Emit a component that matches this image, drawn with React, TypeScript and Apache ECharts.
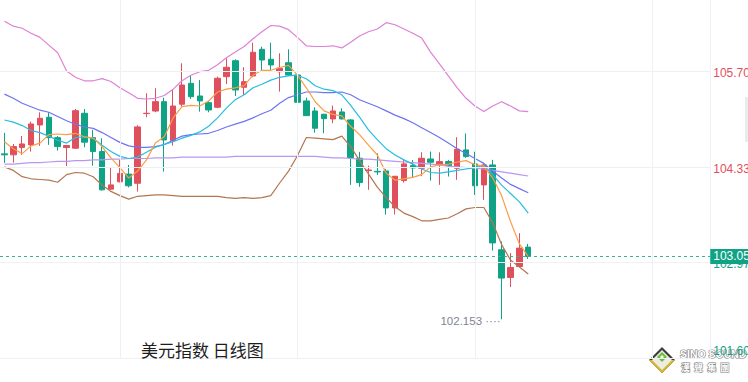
import React, { useEffect, useRef } from "react";
import * as echarts from "echarts";

// ---------- data ----------
const categories = Array.from({ length: 80 }, (_, i) => `D${i + 1}`);
const gridCategories = ["D14", "D34", "D54", "D74"];

// [open, close, low, high]
const ohlc: number[][] = [
  [104.516, 104.502, 104.388, 104.815],
  [104.502, 104.62, 104.39, 104.658],
  [104.606, 104.658, 104.502, 104.772],
  [104.644, 104.943, 104.549, 104.976],
  [104.929, 105.025, 104.63, 105.11],
  [105.039, 104.748, 104.644, 105.11],
  [104.748, 104.62, 104.563, 104.772],
  [104.606, 104.635, 104.343, 104.644],
  [104.597, 105.133, 104.587, 105.157],
  [105.096, 104.683, 104.611, 105.157],
  [104.748, 104.549, 104.348, 104.858],
  [104.549, 104.002, 103.992, 104.739],
  [104.012, 104.073, 104.002, 104.325],
  [104.117, 104.237, 104.108, 104.429],
  [104.227, 104.06, 104.036, 104.358],
  [104.096, 104.901, 103.977, 104.925],
  [105.092, 105.096, 105.039, 105.382],
  [105.128, 105.262, 105.11, 105.453],
  [105.262, 104.715, 104.262, 105.319],
  [104.706, 105.2, 104.635, 105.439],
  [105.225, 105.5, 105.19, 105.81],
  [105.524, 105.333, 105.3, 105.643],
  [105.343, 105.272, 105.119, 105.572],
  [105.247, 105.143, 105.11, 105.272],
  [105.182, 105.596, 105.168, 105.619],
  [105.619, 105.753, 105.514, 105.881],
  [105.847, 105.429, 105.343, 105.867],
  [105.467, 105.547, 105.357, 105.753],
  [105.629, 105.967, 105.61, 106.104],
  [106.01, 105.857, 105.7, 106.047],
  [105.867, 105.786, 105.714, 106.104],
  [105.69, 105.739, 105.405, 105.953],
  [105.818, 105.643, 105.629, 106.01],
  [105.643, 105.253, 105.015, 105.786],
  [105.272, 105.062, 105.058, 105.319],
  [105.129, 104.882, 104.819, 105.182],
  [105.082, 105.019, 104.811, 105.086],
  [105.015, 105.129, 104.954, 105.205],
  [105.115, 105.015, 105.01, 105.168],
  [105.001, 104.463, 104.073, 105.01],
  [104.454, 104.106, 104.045, 104.544],
  [104.279, 104.286, 104.002, 104.348],
  [104.266, 104.258, 104.215, 104.524],
  [104.272, 103.744, 103.649, 104.301],
  [103.744, 104.196, 103.649, 104.201],
  [104.135, 104.373, 104.106, 104.429],
  [104.348, 104.315, 104.183, 104.429],
  [104.31, 104.453, 104.197, 104.539],
  [104.443, 104.396, 104.133, 104.549],
  [104.358, 104.406, 104.073, 104.539],
  [104.406, 104.348, 104.192, 104.43],
  [104.311, 104.582, 104.145, 104.754],
  [104.573, 104.477, 104.459, 104.808],
  [104.372, 104.06, 103.929, 104.547],
  [104.072, 104.358, 103.859, 104.386],
  [104.358, 103.244, 103.135, 104.43],
  [103.146, 102.742, 102.153, 103.264],
  [102.75, 102.893, 102.613, 103.098],
  [102.907, 103.17, 102.9, 103.383],
  [103.184, 103.05, 103.016, 103.23],
];

const ma5 = [
  104.69, 104.59, 104.52, 104.63, 104.67, 104.79, 104.8, 104.79, 104.81, 104.76,
  104.74, 104.62, 104.46, 104.32, 104.17, 104.27, 104.43, 104.67, 104.76, 105.03,
  105.19, 105.21, 105.2, 105.27, 105.4, 105.44, 105.46, 105.49, 105.64, 105.71,
  105.71, 105.75, 105.78, 105.64, 105.46, 105.26, 105.13, 105.08, 105.06, 104.91,
  104.79, 104.64, 104.5, 104.24, 104.14, 104.16, 104.18, 104.22, 104.33, 104.36,
  104.37, 104.4, 104.42, 104.36, 104.34, 104.17, 103.92, 103.55, 103.23, 103.05,
];
const ma10 = [
  105.0, 104.97, 104.92, 104.85, 104.82, 104.77, 104.71, 104.67, 104.75, 104.76,
  104.74, 104.64, 104.55, 104.48, 104.45, 104.47, 104.54, 104.61, 104.65, 104.69,
  104.74, 104.78, 104.83, 104.91, 105.03, 105.17, 105.29, 105.36, 105.46, 105.51,
  105.57, 105.61, 105.63, 105.64, 105.59, 105.49, 105.44, 105.42, 105.36, 105.21,
  105.04, 104.86, 104.72, 104.59, 104.5, 104.43, 104.37, 104.3, 104.25, 104.24,
  104.26, 104.28, 104.3, 104.32, 104.35, 104.22, 104.07, 103.95, 103.83, 103.67,
];
const ma20 = [
  105.37, 105.31, 105.24, 105.19, 105.14, 105.11, 105.05, 104.99, 104.94, 104.9,
  104.88, 104.82, 104.75, 104.68, 104.63, 104.61, 104.61, 104.62, 104.65, 104.71,
  104.77, 104.79, 104.8, 104.81, 104.85, 104.9, 104.94, 104.98, 105.03, 105.09,
  105.14, 105.24, 105.32, 105.36, 105.4, 105.4, 105.39, 105.39, 105.4, 105.36,
  105.29, 105.24, 105.19, 105.13, 105.07, 105.02, 104.96, 104.89, 104.82, 104.75,
  104.67, 104.59, 104.52, 104.45, 104.38, 104.27, 104.17, 104.08, 104.02, 103.96,
];
const upperBand = [
  106.41, 106.34, 106.31, 106.24, 106.18, 106.07, 105.96, 105.7, 105.61, 105.56,
  105.56, 105.59, 105.55, 105.46, 105.39, 105.31, 105.3, 105.31, 105.35, 105.44,
  105.56, 105.64, 105.69, 105.71, 105.79, 105.89, 105.97, 106.05, 106.16, 106.26,
  106.35, 106.34, 106.29, 106.18, 106.06, 106.05, 106.05, 106.06, 106.03, 106.11,
  106.2, 106.26, 106.3, 106.39, 106.36, 106.3, 106.24, 106.17, 105.97, 105.8,
  105.63, 105.46, 105.31, 105.2, 105.12, 105.2, 105.26, 105.2, 105.13, 105.12,
];
const lowerBand = [
  104.33, 104.28, 104.19, 104.16, 104.15, 104.14, 104.11, 104.22, 104.25, 104.24,
  104.19, 104.07, 103.98, 103.92, 103.87, 103.91, 103.92, 103.93, 103.93, 103.92,
  103.91, 103.91, 103.91, 103.91, 103.91, 103.89, 103.88, 103.89, 103.88, 103.89,
  103.92, 104.1, 104.27, 104.49, 104.75, 104.74, 104.73, 104.72, 104.77, 104.62,
  104.42, 104.23, 104.04, 103.89, 103.76, 103.67, 103.62, 103.56, 103.56, 103.58,
  103.6, 103.66, 103.73, 103.75, 103.75, 103.53, 103.22, 103.0, 102.9, 102.8,
];
const ma60 = [
  104.37, 104.37, 104.38, 104.39, 104.39, 104.4, 104.41, 104.41, 104.42, 104.42,
  104.43, 104.43, 104.44, 104.44, 104.45, 104.45, 104.45, 104.46, 104.46, 104.46,
  104.47, 104.47, 104.47, 104.47, 104.47, 104.47, 104.48, 104.48, 104.48, 104.48,
  104.48, 104.48, 104.48, 104.48, 104.48, 104.48, 104.47, 104.46, 104.46, 104.45,
  104.44, 104.44, 104.43, 104.42, 104.41, 104.4, 104.39, 104.38, 104.37, 104.36,
  104.34, 104.33, 104.32, 104.31, 104.3, 104.28, 104.26, 104.24, 104.22, 104.2,
];

const priceLevels = [105.7, 104.333, 102.967, 101.6];
const levelLabels = ["105.70", "104.33", "102.97", "101.60"];
const lastPrice = 103.05;
const lastPriceLabel = "103.05";
const lowPrice = 102.153;
const lowLabel = "102.153 ····";
const lowCategory = "D57";
const titleText = "美元指数 日线图";

// ---------- styles ----------
const UP = "#e0505c";
const DOWN = "#0fa386";
const GRID = "#eff0f4";
const NUM_FONT = "'Liberation Sans', Arial, sans-serif";

export default function App() {
  const ref = useRef<HTMLDivElement>(null);

  useEffect(() => {
    if (!ref.current) return;
    const chart = echarts.init(ref.current, undefined, { renderer: "svg" });

    const lineSeries = (name: string, data: number[], color: string) => ({
      name,
      type: "line",
      data,
      showSymbol: false,
      symbol: "none",
      smooth: false,
      z: 3,
      lineStyle: { color, width: 1.2 },
    });

    const gridMarks: any[] = priceLevels.map((v, i) => ({
      yAxis: v,
      lineStyle: { color: GRID, width: 1, type: "solid" },
      label: {
        show: true,
        position: "end",
        distance: 3,
        formatter: levelLabels[i],
        color: v > lastPrice ? UP : DOWN,
        fontSize: 12,
        fontFamily: NUM_FONT,
        offset: i === priceLevels.length - 1 ? [0, -7] : [0, 2],
      },
    }));
    gridCategories.forEach((c) =>
      gridMarks.push({
        xAxis: c,
        lineStyle: { color: GRID, width: 1, type: "solid" },
        label: { show: false },
      })
    );

    const option: any = {
      animation: false,
      backgroundColor: "#ffffff",
      title: {
        text: titleText,
        left: 141,
        top: 341,
        padding: 0,
        textStyle: {
          fontSize: 17,
          fontWeight: "normal",
          color: "#1d1d1d",
          fontFamily: "'Noto Sans CJK SC', sans-serif",
        },
      },
      grid: { left: -1.75, top: 0, width: 712, height: 358 },
      xAxis: {
        type: "category",
        data: categories,
        boundaryGap: true,
        axisLine: { show: true, lineStyle: { color: GRID } },
        axisTick: { show: false },
        axisLabel: { show: false },
        splitLine: { show: false },
      },
      yAxis: {
        type: "value",
        position: "right",
        min: 101.6,
        max: 106.714,
        scale: true,
        splitLine: { show: false },
        axisLabel: { show: false },
        axisTick: { show: false },
        axisLine: { show: true, lineStyle: { color: GRID } },
      },
      series: [
        {
          name: "grid",
          type: "line",
          data: [],
          z: 1,
          markLine: {
            silent: true,
            symbol: ["none", "none"],
            animation: false,
            data: gridMarks,
          },
        },
        {
          name: "K",
          type: "candlestick",
          data: ohlc,
          barWidth: 6,
          z: 2,
          itemStyle: {
            color: UP,
            color0: DOWN,
            borderColor: UP,
            borderColor0: DOWN,
            borderWidth: 1,
          },
          markPoint: {
            symbol: "circle",
            symbolSize: 0.1,
            animation: false,
            itemStyle: { color: "transparent" },
            label: {
              show: true,
              position: "left",
              distance: 1,
              offset: [0, 2],
              formatter: lowLabel,
              color: "#7f8494",
              fontSize: 11.5,
              fontFamily: NUM_FONT,
            },
            data: [{ coord: [lowCategory, lowPrice], value: lowPrice }],
          },
        },
        lineSeries("MA60", ma60, "#b996f0"),
        lineSeries("UPPER", upperBand, "#de82d6"),
        lineSeries("LOWER", lowerBand, "#b27750"),
        lineSeries("MA20", ma20, "#6e74f0"),
        lineSeries("MA10", ma10, "#27bde0"),
        lineSeries("MA5", ma5, "#fb9d45"),
        {
          name: "last",
          type: "line",
          data: [],
          z: 10,
          markLine: {
            silent: true,
            symbol: ["none", "none"],
            animation: false,
            data: [
              {
                yAxis: lastPrice,
                lineStyle: { color: "#35b596", width: 1, type: [3, 3] },
                label: {
                  show: true,
                  position: "end",
                  distance: 0,
                  formatter: lastPriceLabel,
                  color: "#ffffff",
                  backgroundColor: DOWN,
                  padding: [2, 4, 1, 3],
                  fontSize: 12,
                  fontFamily: NUM_FONT,
                },
              },
            ],
          },
        },
      ],
      graphic: [
        {
          type: "rect",
          shape: { x: 745, y: 97, width: 3, height: 45 },
          style: { fill: "#ebebef" },
          silent: true,
        },
        {
          type: "group",
          silent: true,
          children: [
            {
              type: "polygon",
              shape: { points: [[662, 347], [675, 360], [662, 373], [649, 360]] },
              style: { fill: "#3d3d38" },
            },
            {
              type: "polygon",
              shape: { points: [[649, 360], [675, 360], [662, 373]] },
              style: { fill: "#d6b82a" },
            },
            {
              type: "polygon",
              shape: { points: [[662, 350], [672, 360], [662, 370], [652, 360]] },
              style: { fill: "#ecebe4" },
            },
            {
              type: "polygon",
              shape: { points: [[662, 352], [667, 357], [662, 362], [657, 357]] },
              style: { fill: "#6cbf3a" },
            },
            {
              type: "polygon",
              shape: { points: [[662, 355], [664, 357], [662, 359], [660, 357]] },
              style: { fill: "#ffffff" },
            },
            {
              type: "text",
              style: {
                x: 680,
                y: 354,
                text: "SINO SOUND",
                fill: "#ffffff",
                stroke: "#7a7a7a",
                lineWidth: 1.2,
                font: "bold 10.5px 'Liberation Sans', Arial, sans-serif",
                verticalAlign: "middle",
              },
            },
            {
              type: "text",
              style: {
                x: 681,
                y: 367,
                text: "漢  聲  集  團",
                fill: "#ffffff",
                stroke: "#8a8a8a",
                lineWidth: 1.2,
                font: "bold 9px 'Noto Sans CJK TC', sans-serif",
                verticalAlign: "middle",
              },
            },
          ],
        },
      ],
    };

    chart.setOption(option);
    return () => chart.dispose();
  }, []);

  return (
    <div
      ref={ref}
      style={{ position: "fixed", left: 0, top: 0, width: 748, height: 382 }}
    />
  );
}
